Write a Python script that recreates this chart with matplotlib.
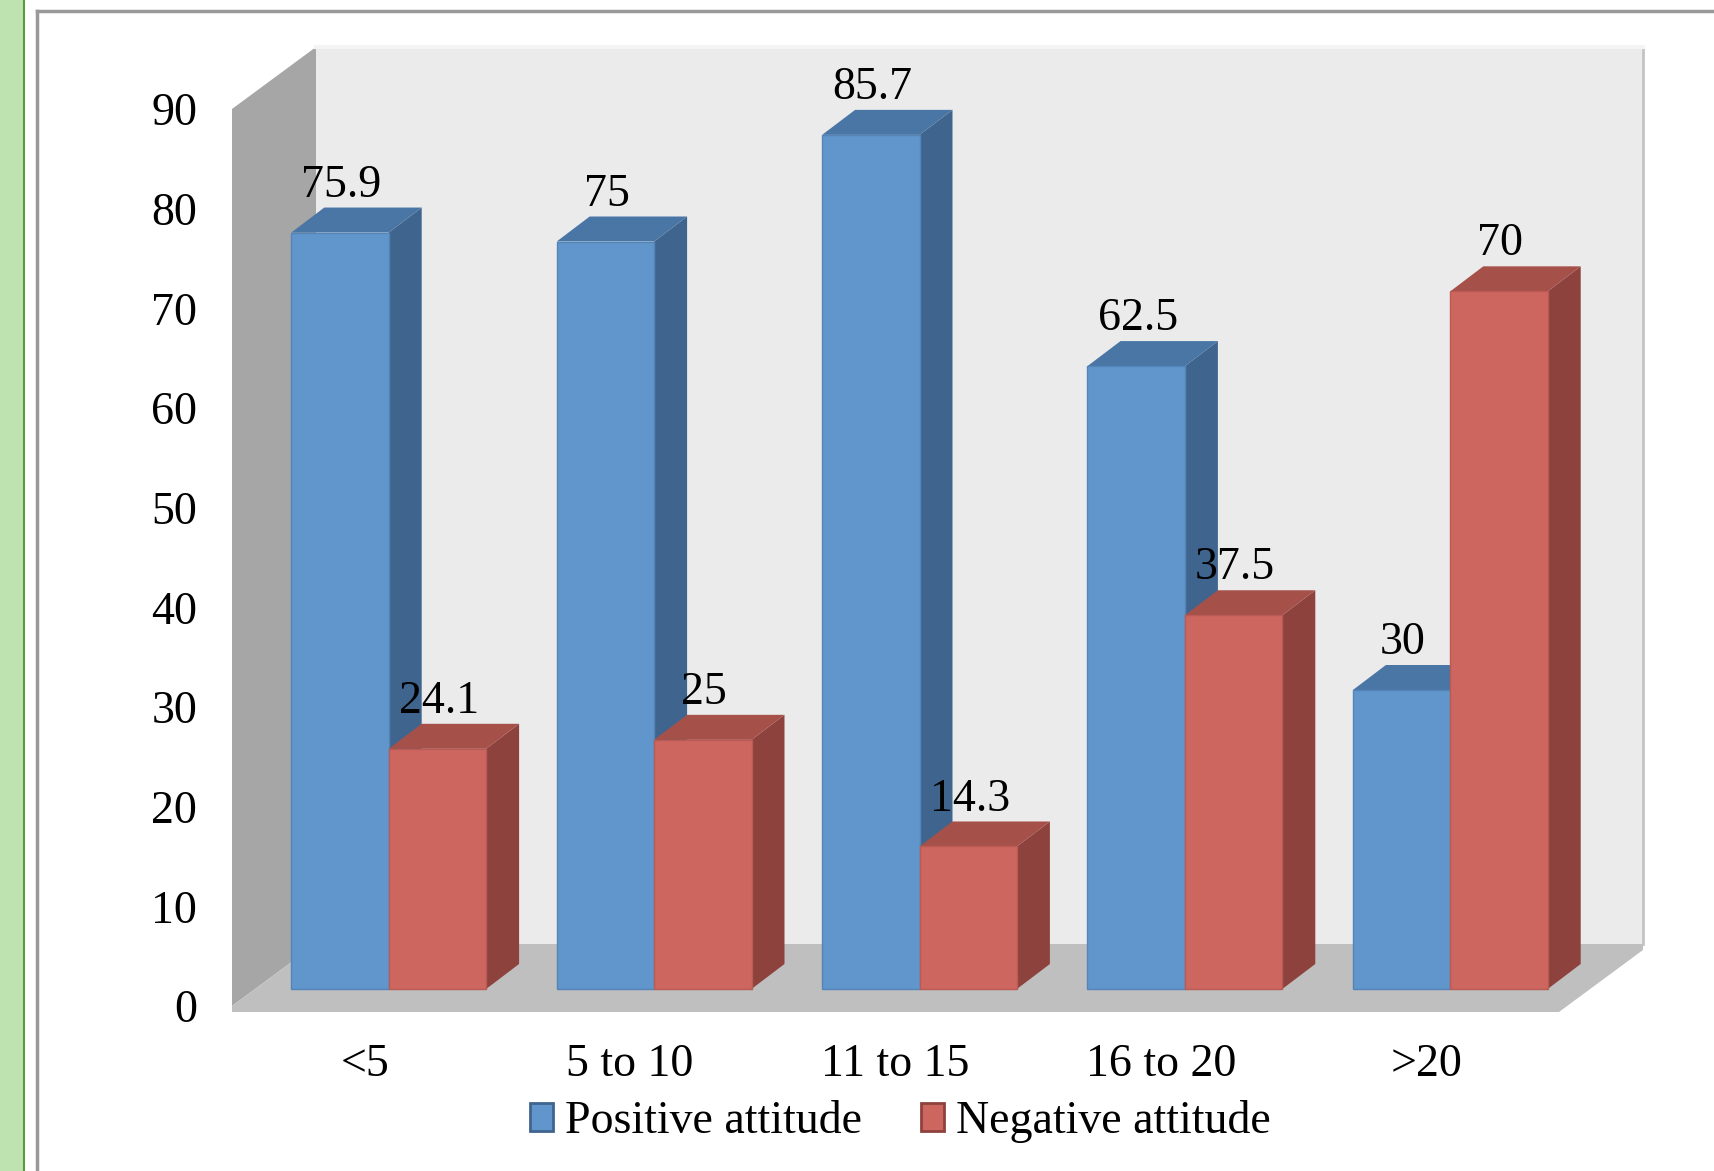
import matplotlib.pyplot as plt
from matplotlib.patches import Polygon, Rectangle, Patch
from matplotlib.lines import Line2D

# data
categories = ["<5", "5 to 10", "11 to 15", "16 to 20", ">20"]
positive = [75.9, 75, 85.7, 62.5, 30]
negative = [24.1, 25, 14.3, 37.5, 70]
series_names = ["Positive attitude", "Negative attitude"]
y_ticks = [0, 10, 20, 30, 40, 50, 60, 70, 80, 90]

W, H = 1715, 1171
plt.rcParams['font.family'] = ['Liberation Serif', 'DejaVu Serif']
FS = 33

fig = plt.figure(figsize=(W / 100, H / 100), dpi=100)

# front plane of the fake 3d box, in pixels
left_px, right_px = 232, 1559
zero_px, top_px = 1006, 109
ax = fig.add_axes([left_px / W, 1 - zero_px / H,
                   (right_px - left_px) / W, (zero_px - top_px) / H])
ax.set_xlim(-0.5, len(categories) - 0.5)
ax.set_ylim(0, 90)
for s in ax.spines.values():
    s.set_visible(False)
ax.patch.set_visible(False)

px_x = (right_px - left_px) / len(categories)
px_y = (zero_px - top_px) / 90.0


def depth(dx_px, dy_px):
    return dx_px / px_x, dy_px / px_y


wall_dx, wall_dy = depth(84, 62)
plane_dx, plane_dy = depth(24, 17)
bar_dx, bar_dy = depth(33, 25)
bar_w = 0.367

x0, x1 = -0.5, len(categories) - 0.5


def poly(pts, color, z, **kw):
    ax.add_patch(Polygon(pts, closed=True, facecolor=color, edgecolor='none',
                         zorder=z, clip_on=False, **kw))


# walls and floor
poly([(x0 + wall_dx, wall_dy), (x1 + wall_dx, wall_dy),
      (x1 + wall_dx, 90 + wall_dy), (x0 + wall_dx, 90 + wall_dy)], '#ebebeb', 1)
poly([(x0, 0), (x0, 90), (x0 + wall_dx, 90 + wall_dy), (x0 + wall_dx, wall_dy)],
     '#a6a6a6', 1)
slab = 0.6
poly([(x0, -slab), (x1, -slab), (x1 + wall_dx, wall_dy - slab),
      (x1 + wall_dx, wall_dy), (x0 + wall_dx, wall_dy), (x0, 0)], '#bfbfbf', 1.5)
ax.plot([x1 + wall_dx] * 2, [wall_dy, 90 + wall_dy], color='#c4c4c4', lw=2,
        clip_on=False, zorder=1.2)
ax.plot([x0 + wall_dx, x1 + wall_dx], [90 + wall_dy] * 2, color='#f4f4f4', lw=3,
        clip_on=False, zorder=1.2)

styles = [
    dict(front='#6096cb', side='#3f658e', top='#4a76a6', edge='#5585b8'),
    dict(front='#cd665e', side='#8e423d', top='#a6504a', edge='#b95b54'),
]


def bar3d(xl, v, st):
    xl = xl + plane_dx
    xr = xl + bar_w
    yb, yt = plane_dy, v + plane_dy
    poly([(xr, yb), (xr + bar_dx, yb + bar_dy), (xr + bar_dx, yt + bar_dy), (xr, yt)],
         st['side'], 3)
    poly([(xl, yt), (xr, yt), (xr + bar_dx, yt + bar_dy), (xl + bar_dx, yt + bar_dy)],
         st['top'], 3)


for i in range(len(categories)):
    for k, vals in enumerate([positive, negative]):
        xl = i - bar_w + k * bar_w
        bar3d(xl, vals[i], styles[k])
        ax.bar(xl + plane_dx, vals[i], width=bar_w, bottom=plane_dy, align='edge',
               color=styles[k]['front'], edgecolor=styles[k]['edge'], lw=1,
               zorder=3, clip_on=False)
        ax.annotate(f"{vals[i]:g}", (xl + plane_dx + bar_w / 2, vals[i] + plane_dy),
                    xytext=(1, 34), textcoords='offset points', ha='center',
                    va='center', fontsize=FS, zorder=5, annotation_clip=False)

ax.set_yticks(y_ticks)
ax.set_yticklabels([str(t) for t in y_ticks], fontsize=FS)
ax.set_xticks(range(len(categories)))
ax.set_xticklabels(categories, fontsize=FS)
ax.tick_params(axis='y', length=0, pad=25)
ax.tick_params(axis='x', length=0, pad=27)

handles = [Patch(facecolor=st['front'], edgecolor=st['side'], lw=2) for st in styles]
fig.legend(handles, series_names, loc='center', bbox_to_anchor=(0.525, 0.042),
           ncol=2, frameon=False, fontsize=FS, handlelength=0.5, handleheight=0.55,
           handletextpad=0.25, columnspacing=1.3)

# page decoration: green margin strip and chart border
fig.patches.append(Rectangle((0, 0), 23 / W, 1, transform=fig.transFigure,
                             facecolor='#bfe3b0', edgecolor='none', zorder=0))
fig.add_artist(Line2D([24 / W] * 2, [0, 1], color='#5a9a3c', lw=1.5))
fig.add_artist(Line2D([37 / W] * 2, [0, 1 - 11 / H], color='#999999', lw=2.5))
fig.add_artist(Line2D([37 / W, 1], [1 - 11 / H] * 2, color='#999999', lw=2.5))

fig.savefig('out.png', dpi=100)
